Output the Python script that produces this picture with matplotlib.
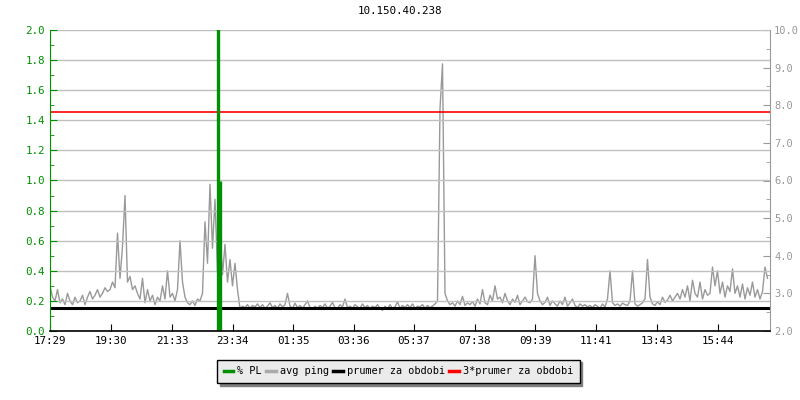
import matplotlib
matplotlib.use("Agg")
import matplotlib.pyplot as plt
from matplotlib.lines import Line2D
from matplotlib.ticker import MultipleLocator

plt.rcParams['font.family'] = ['DejaVu Sans Mono']
plt.rcParams['font.size'] = 7.5

title = "10.150.40.238"
start_label = "17:29"
span_min = 1440
step_min = 5

# avg ping [ms], one row per hour from 17:29, 5 min samples
ping_rows = [
    [3.2, 2.9, 2.8, 3.1, 2.75, 2.85, 2.7, 3.0, 2.8, 2.7, 2.9, 2.75],
    [2.8, 2.95, 2.7, 2.9, 3.05, 2.85, 2.95, 3.1, 2.9, 3.0, 3.15, 3.05],
    [3.1, 3.3, 3.15, 4.6, 3.4, 4.25, 5.6, 3.3, 3.45, 3.1, 3.2, 3.0],
    [2.85, 3.4, 2.75, 3.1, 2.8, 2.95, 2.7, 2.9, 2.8, 3.2, 2.85, 3.6],
    [2.9, 3.0, 2.8, 3.1, 4.4, 3.3, 2.9, 2.75, 2.7, 2.8, 2.68, 2.85],
    [2.8, 3.0, 4.9, 3.8, 5.9, 4.2, 5.5, 3.6, 4.6, 3.5, 4.3, 3.3],
    [3.9, 3.2, 3.8, 3.1, 2.6, 2.66, 2.62, 2.7, 2.6, 2.68, 2.64, 2.72],
    [2.62, 2.7, 2.6, 2.66, 2.75, 2.62, 2.68, 2.6, 2.72, 2.64, 2.7, 3.0],
    [2.66, 2.6, 2.74, 2.62, 2.68, 2.6, 2.7, 2.8, 2.62, 2.58, 2.66, 2.6],
    [2.68, 2.62, 2.72, 2.6, 2.66, 2.76, 2.62, 2.6, 2.7, 2.64, 2.85, 2.62],
    [2.66, 2.6, 2.7, 2.64, 2.6, 2.72, 2.62, 2.68, 2.58, 2.66, 2.62, 2.7],
    [2.6, 2.55, 2.66, 2.58, 2.7, 2.6, 2.64, 2.78, 2.6, 2.68, 2.62, 2.7],
    [2.62, 2.72, 2.6, 2.66, 2.64, 2.7, 2.6, 2.68, 2.62, 2.66, 2.72, 2.8],
    [7.9, 9.1, 3.0, 2.8, 2.7, 2.75, 2.66, 2.8, 2.7, 2.92, 2.68, 2.75],
    [2.7, 2.78, 2.66, 2.85, 2.72, 3.1, 2.75, 2.7, 2.95, 2.8, 3.2, 2.85],
    [2.9, 2.75, 3.0, 2.8, 2.7, 2.85, 2.76, 2.95, 2.7, 2.8, 2.9, 2.78],
    [2.75, 2.85, 4.0, 3.0, 2.8, 2.7, 2.76, 2.9, 2.68, 2.8, 2.72, 2.66],
    [2.8, 2.7, 2.9, 2.66, 2.75, 2.85, 2.68, 2.62, 2.72, 2.66, 2.7, 2.64],
    [2.68, 2.62, 2.7, 2.66, 2.6, 2.72, 2.64, 2.85, 3.6, 2.75, 2.68, 2.72],
    [2.66, 2.74, 2.7, 2.68, 2.8, 3.6, 2.72, 2.66, 2.7, 2.75, 2.85, 3.9],
    [2.9, 2.72, 2.68, 2.78, 2.7, 2.9, 2.76, 2.82, 2.95, 2.8, 2.9, 3.0],
    [2.85, 3.1, 2.9, 3.2, 2.8, 3.35, 3.0, 2.9, 3.3, 2.85, 3.1, 2.95],
    [3.0, 3.7, 3.2, 3.6, 3.0, 3.3, 2.9, 3.2, 3.05, 3.65, 3.0, 3.2],
    [2.9, 3.25, 2.85, 3.15, 2.95, 3.3, 2.9, 3.1, 2.85, 3.05, 3.7, 3.4],
]
ping_mean = 2.61

# packet loss [%], only the non-zero samples (minutes from start)
pl_minutes = [336, 339]
pl_values = [2.5, 1.0]

tick_labels = ["17:29", "19:30", "21:33", "23:34", "01:35", "03:36",
               "05:37", "07:38", "09:39", "11:41", "13:43", "15:44"]

GREEN = "#009000"
GRAY = "#999999"


def minutes_from_start(lbl):
    h, m = map(int, lbl.split(":"))
    h0, m0 = map(int, start_label.split(":"))
    return (h * 60 + m - h0 * 60 - m0) % 1440


ping = [v for row in ping_rows for v in row]
ping_t = [i * step_min for i in range(len(ping))]

fig = plt.figure(figsize=(8, 4), dpi=100)
ax = fig.add_axes([0.0625, 0.1725, 0.9, 0.7525])
ax2 = ax.twinx()
ax.set_zorder(ax2.get_zorder() + 1)
ax.patch.set_visible(False)

ax2.plot(ping_t, ping, color=GRAY, lw=1)
ax2.axhline(ping_mean, color="black", lw=2.2)
ax2.axhline(3 * ping_mean, color="red", lw=1.2)
ax.vlines(pl_minutes, 0, pl_values, color=GREEN, lw=2.4)

ax.set_xlim(0, span_min)
ax.set_ylim(0, 2)
ax2.set_ylim(2, 10)

ax.yaxis.set_major_locator(MultipleLocator(0.2))
ax.yaxis.set_minor_locator(MultipleLocator(0.1))
ax2.yaxis.set_major_locator(MultipleLocator(1.0))
ax2.yaxis.set_minor_locator(MultipleLocator(0.5))
ax.yaxis.set_major_formatter(lambda v, p: f"{v:.1f}")
ax2.yaxis.set_major_formatter(lambda v, p: f"{v:.1f}")

ax.set_xticks([minutes_from_start(l) for l in tick_labels])
ax.set_xticklabels(tick_labels)

ax.grid(axis="y", color="#c0c0c0", lw=1)
ax.set_axisbelow(True)

ax.tick_params(axis="y", which="both", direction="in", colors=GREEN, labelsize=7.8)
ax.tick_params(axis="y", which="major", length=5)
ax.tick_params(axis="y", which="minor", length=3)
ax.tick_params(axis="x", direction="in", length=5, colors="black", labelsize=7.8)
ax2.tick_params(axis="y", which="both", direction="in", colors=GRAY, labelsize=7.5, pad=3)
ax2.tick_params(axis="y", which="major", length=5)
ax2.tick_params(axis="y", which="minor", length=3)

for a in (ax, ax2):
    a.spines["top"].set_visible(False)
ax.spines["left"].set_color(GREEN)
ax.spines["right"].set_visible(False)
ax2.spines["left"].set_visible(False)
ax2.spines["right"].set_color(GRAY)
ax2.spines["bottom"].set_visible(False)
ax.spines["bottom"].set_color("black")
ax.spines["bottom"].set_linewidth(1.2)

fig.suptitle(title, y=0.985, fontsize=7.8)

handles = [
    Line2D([], [], color=GREEN, lw=2.5),
    Line2D([], [], color="#aaaaaa", lw=2.5),
    Line2D([], [], color="black", lw=2.5),
    Line2D([], [], color="red", lw=2.5),
]
labels = ["% PL", "avg ping", "prumer za obdobi", "3*prumer za obdobi"]
fig.legend(handles, labels, loc="center", bbox_to_anchor=(0.498, 0.072),
           ncol=4, frameon=True, fancybox=False, edgecolor="black",
           facecolor="#ebebeb", framealpha=1, fontsize=7.4,
           handlelength=0.9, handletextpad=0.4, columnspacing=0.45,
           borderpad=0.65, borderaxespad=0,
           shadow={"color": "#808080", "alpha": 1})

fig.savefig("out.png", dpi=100)
